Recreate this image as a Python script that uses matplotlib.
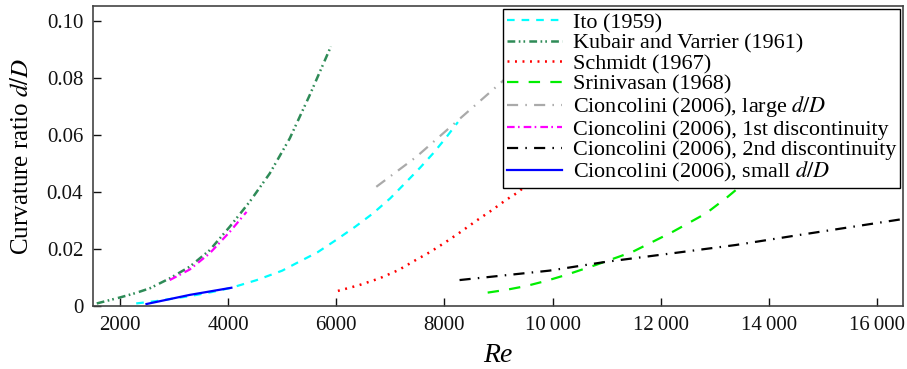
import matplotlib
matplotlib.use("Agg")
import matplotlib.pyplot as plt

plt.rcParams['font.family'] = ['Liberation Serif', 'DejaVu Serif']
plt.rcParams['mathtext.fontset'] = 'stix'
plt.rcParams['lines.scale_dashes'] = False

# data: Reynolds number vs curvature ratio d/D
re_ito = [2300, 2700, 3300, 3700, 4060, 4530, 5000, 5260, 5650, 6000, 6350, 6680, 7000, 7300, 7550, 7790, 8020, 8250]
dd_ito = [0.0009, 0.0018, 0.0035, 0.0049, 0.0064, 0.0091, 0.0124, 0.0150, 0.0188, 0.0232, 0.0278,
          0.0325, 0.0378, 0.0436, 0.0485, 0.0535, 0.0588, 0.0645]

re_kub = [1570, 2000, 2280, 2550, 2920, 3290, 3660, 4030, 4400, 4770, 5140, 5510, 5900]
dd_kub = [0.0009, 0.0030, 0.0045, 0.0062, 0.0097, 0.0138, 0.0196, 0.0278, 0.0366, 0.0465, 0.0588, 0.0740, 0.0910]

re_sch = [6030, 6420, 6800, 7150, 7450, 7750, 8030, 8310, 8590, 8870, 9140, 9330, 9700]
dd_sch = [0.0053, 0.0073, 0.0097, 0.0126, 0.0159, 0.0191, 0.0225, 0.0261, 0.0299, 0.0335, 0.0372, 0.0395, 0.0450]

re_sri = [8800, 9150, 9510, 9880, 10250, 10800, 11480, 12220, 12840, 13240, 13600]
dd_sri = [0.0047, 0.0057, 0.0070, 0.0088, 0.0109, 0.0144, 0.0190, 0.0260, 0.0325, 0.0383, 0.0440]

re_large = [6740, 7480, 8220, 8960, 9500]
dd_large = [0.0418, 0.0523, 0.0646, 0.0769, 0.0860]

re_d1 = [2920, 3290, 3660, 4030, 4340]
dd_d1 = [0.0091, 0.0128, 0.0185, 0.0260, 0.0330]

re_d2 = [8280, 9940, 10990, 12220, 13390, 14560, 16480]
dd_d2 = [0.0091, 0.0124, 0.0155, 0.0185, 0.0214, 0.0249, 0.0305]

re_small = [2490, 3290, 4060]
dd_small = [0.0007, 0.0039, 0.0064]

yticks = [0, 0.02, 0.04, 0.06, 0.08, 0.10]
ylabels = ['0', '0.02', '0.04', '0.06', '0.08', '0.10']
xticks = [2000, 4000, 6000, 8000, 10000, 12000, 14000, 16000]
xlabels = ['2000', '4000', '6000', '8000', '10\u2009000', '12\u2009000', '14\u2009000', '16\u2009000']

fig = plt.figure(figsize=(9.07, 3.69), dpi=100)
ax = fig.add_axes([0.1025, 0.1707, 0.893, 0.813])

lw = 1.6
ax.plot(re_ito, dd_ito, color='#00FFFF', lw=lw, dashes=(5.5, 5.0), label='Ito (1959)')
ax.plot(re_kub, dd_kub, color='#2E8B57', lw=1.8, dashes=(5.6, 2.5, 1.2, 2.2, 1.2, 3.0),
        label='Kubair and Varrier (1961)')
ax.plot(re_sch, dd_sch, color='#FF0000', lw=1.8, dashes=(1.4, 4.0), label='Schmidt (1967)')
ax.plot(re_sri, dd_sri, color='#00EE00', lw=lw, dashes=(8.2, 7.4), label='Srinivasan (1968)')
ax.plot(re_large, dd_large, color='#AAAAAA', lw=lw, dashes=(8.0, 5.2, 1.1, 5.2),
        label='Cioncolini (2006), large $d/D$')
ax.plot(re_d1, dd_d1, color='#FF00FF', lw=lw, dashes=(5.5, 2.4, 1.2, 2.9),
        label='Cioncolini (2006), 1st discontinuity')
ax.plot(re_d2, dd_d2, color='black', lw=lw, dashes=(8.0, 5.2, 1.1, 5.2),
        label='Cioncolini (2006), 2nd discontinuity')
ax.plot(re_small, dd_small, color='#0000FF', lw=lw, label='Cioncolini (2006), small $d/D$')

ax.set_xlim(1500, 16480)
ax.set_ylim(0, 0.1052)
ax.set_xticks(xticks)
ax.set_xticklabels(xlabels)
ax.set_yticks(yticks)
ax.set_yticklabels(ylabels)
ax.tick_params(direction='in', length=6, width=1, labelsize=15, pad=7, colors='#111111')
for s in ax.spines.values():
    s.set_color('#444444')
    s.set_linewidth(1.2)

ax.set_xlabel('Re', fontsize=20, fontstyle='italic', labelpad=6)
ax.set_ylabel('Curvature ratio $d/D$', fontsize=18, labelpad=10)

leg = ax.legend(loc='upper right', fontsize=15.9, frameon=True, fancybox=False,
                framealpha=1, edgecolor='black', handlelength=2.5, handletextpad=0.5,
                labelspacing=0.0, borderpad=0.18, borderaxespad=0.12)
leg.get_frame().set_linewidth(1.0)

fig.savefig('out.png', dpi=100)
